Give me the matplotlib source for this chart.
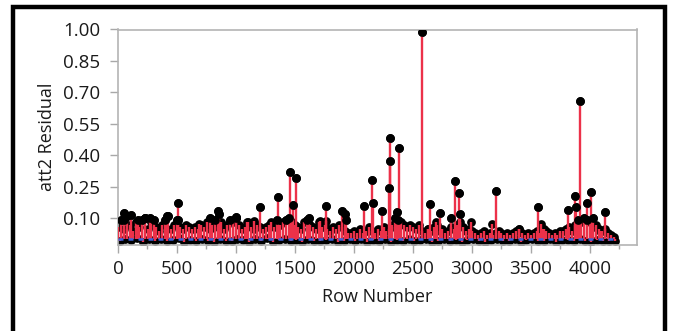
import numpy as np
import matplotlib
matplotlib.use('Agg')
import matplotlib.pyplot as plt
from matplotlib.patches import Rectangle

plt.rcParams['font.family'] = ['Open Sans', 'DejaVu Sans']

# Residuals
# crust of the dense band, one value every 25 rows from row 1
base_start, base_step = 1, 25
base_vals = [
    0.06, 0.09, 0.05, 0.11, 0.07, 0.04, 0.08, 0.06, 0.09, 0.10, 0.05, 0.08, 0.09, 0.06, 0.04, 0.07, 0.09, 0.11, 0.05, 0.07,
    0.09, 0.06, 0.05, 0.07, 0.06, 0.05, 0.06, 0.05, 0.07, 0.06, 0.08, 0.05, 0.07, 0.09, 0.06, 0.08, 0.05, 0.07, 0.09, 0.08,
    0.10, 0.07, 0.05, 0.06, 0.08, 0.06, 0.05, 0.07, 0.06, 0.05, 0.06, 0.07, 0.08, 0.06, 0.09, 0.07, 0.08, 0.09, 0.10, 0.08,
    0.07, 0.06, 0.05, 0.08, 0.09, 0.07, 0.06, 0.05, 0.08, 0.06, 0.07, 0.05, 0.04, 0.06, 0.05, 0.07, 0.06, 0.04, 0.03, 0.03,
    0.04, 0.03, 0.05, 0.03, 0.04, 0.06, 0.04, 0.03, 0.05, 0.04, 0.06, 0.04, 0.05, 0.07, 0.06, 0.09, 0.08, 0.07, 0.06, 0.07,
    0.06, 0.05, 0.07, 0.04, 0.03, 0.05, 0.04, 0.06, 0.07, 0.04, 0.05, 0.03, 0.04, 0.06, 0.05, 0.07, 0.08, 0.06, 0.04, 0.05,
    0.04, 0.03, 0.02, 0.03, 0.04, 0.02, 0.03, 0.02, 0.03, 0.04, 0.03, 0.02, 0.03, 0.02, 0.03, 0.04, 0.05, 0.03, 0.02, 0.03,
    0.02, 0.03, 0.04, 0.03, 0.05, 0.04, 0.03, 0.02, 0.03, 0.02, 0.03, 0.04, 0.05, 0.06, 0.04, 0.07, 0.09, 0.08, 0.10, 0.09,
    0.08, 0.06, 0.07, 0.05, 0.04, 0.05, 0.03, 0.02, 0.01,
]

# near-zero floor, one value every 50 rows from row 13
floor_start, floor_step = 13, 50
floor_vals = [
    -0.010, 0.000, -0.005, 0.004, -0.012, 0.000, -0.008, 0.003, -0.010, -0.004,
    0.005, -0.011, -0.002, -0.009, 0.002, -0.006, -0.012, 0.001, -0.007, -0.010,
    0.003, -0.004, -0.011, -0.001, -0.008, 0.004, -0.012, -0.005, 0.000, -0.009,
    -0.003, -0.011, 0.002, -0.007, -0.010, -0.002, 0.003, -0.012, -0.006, -0.001,
    -0.009, 0.002, -0.011, -0.004, -0.008, 0.001, -0.012, -0.003, -0.007, 0.002,
    -0.010, -0.005, 0.000, -0.011, -0.006, 0.003, -0.009, -0.002, -0.012, -0.004,
    0.001, -0.008, -0.011, -0.003, 0.002, -0.010, -0.006, -0.001, -0.012, -0.004,
    0.003, -0.009, -0.007, 0.000, -0.011, -0.005, -0.002, -0.010, 0.001, -0.008,
    -0.012, -0.004, -0.009, -0.006, -0.010,
]

# the taller residuals
spike_rows = [55, 55, 109, 170, 230, 270, 418, 509, 509, 688, 783, 847, 860, 1000, 1090,
              1150, 1200, 1360, 1458, 1480, 1509, 1618, 1709, 1764, 1767, 1898, 1927, 1930,
              2087, 2152, 2163, 2236, 2298, 2305, 2305, 2350, 2363, 2381, 2581, 2630, 2643,
              2700, 2727, 2826, 2858, 2894, 2901, 2996, 3174, 3203, 3400, 3563, 3585, 3614,
              3750, 3811, 3872, 3883, 3920, 3974, 4014, 4029, 4090, 4127]
spike_vals = [0.127, 0.090, 0.114, 0.090, 0.100, 0.100, 0.110, 0.175, 0.090, 0.075, 0.099,
              0.135, 0.120, 0.104, 0.080, 0.085, 0.154, 0.203, 0.323, 0.165, 0.291, 0.100,
              0.085, 0.085, 0.159, 0.135, 0.122, 0.090, 0.159, 0.281, 0.173, 0.137, 0.246,
              0.372, 0.483, 0.100, 0.129, 0.435, 0.989, 0.050, 0.167, 0.080, 0.127, 0.099,
              0.277, 0.219, 0.122, 0.083, 0.073, 0.232, 0.048, 0.154, 0.075, 0.050, 0.040,
              0.138, 0.205, 0.154, 0.658, 0.173, 0.224, 0.100, 0.040, 0.131]

base_rows = base_start + base_step * np.arange(len(base_vals))
floor_rows = floor_start + floor_step * np.arange(len(floor_vals))

rows = np.concatenate([floor_rows, base_rows, spike_rows])
vals = np.concatenate([floor_vals, base_vals, spike_vals])

red = '#EC3149'
ms = 6.3
fig = plt.figure(figsize=(6.73, 3.31), dpi=100)
ax = fig.add_axes([118 / 673, 1 - 244.5 / 331, (637 - 118) / 673, (244.5 - 29.5) / 331])

ax.plot(rows, vals, 'o', color='black', ms=ms, mew=0, zorder=2)
ax.vlines(rows, 0, vals, color=red, lw=1.7, zorder=3)
top = vals > 0.085
ax.plot(rows[top], vals[top], 'o', color='black', ms=ms, mew=0, zorder=4)
ax.plot([1, rows.max()], [0, 0], color='#3A62DA', lw=1.8, ls=(0, (2, 2)), zorder=5)

ax.set_xlim(0, 4400)
ax.set_ylim(-0.025, 1.0)
ax.set_xticks(np.arange(0, 4001, 500))
ax.set_xticks(np.arange(0, 4251, 250), minor=True)
ax.set_yticks([0.10, 0.25, 0.40, 0.55, 0.70, 0.85, 1.00])
ax.set_yticklabels(['0.10', '0.25', '0.40', '0.55', '0.70', '0.85', '1.00'])

for s in ax.spines.values():
    s.set_color('#B4B4B4')
    s.set_linewidth(1.2)
ax.tick_params(which='major', length=6, width=1, color='#A8A8A8', labelsize=13.5, labelcolor='#1A1A1A')
ax.tick_params(axis='y', pad=7)
ax.tick_params(axis='x', pad=5)
ax.tick_params(which='minor', axis='x', length=3, width=1, color='#A8A8A8')

ax.set_xlabel('Row Number', fontsize=13, color='#1A1A1A')
ax.set_ylabel('att2 Residual', fontsize=13, color='#1A1A1A')
ax.xaxis.set_label_coords(0.5, -0.2)
ax.yaxis.set_label_coords(-0.12, 0.5)

# thick outer frame
fig.add_artist(Rectangle((13 / 673, -0.1), (665 - 13) / 673, 1.1 - 7 / 331,
                         transform=fig.transFigure, fill=False, ec='black', lw=3.2))

fig.savefig('out.png', dpi=100)
